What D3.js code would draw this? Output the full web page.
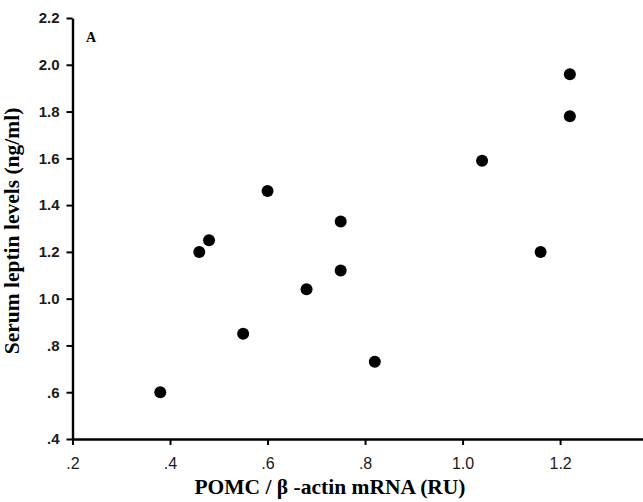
<!DOCTYPE html>
<html><head><meta charset="utf-8">
<script src="https://cdn.jsdelivr.net/npm/d3@7"></script>
<style>body{margin:0;background:#fff}svg{display:block}</style>
</head><body>
<script>
const pomc   = [0.38, 0.46, 0.48, 0.55, 0.60, 0.68, 0.75, 0.75, 0.82, 1.04, 1.16, 1.22, 1.22];
const leptin = [0.60, 1.20, 1.25, 0.85, 1.46, 1.04, 1.33, 1.12, 0.73, 1.59, 1.20, 1.96, 1.78];
const xTicks = [0.2, 0.4, 0.6, 0.8, 1.0, 1.2];
const yTicks = [0.4, 0.6, 0.8, 1.0, 1.2, 1.4, 1.6, 1.8, 2.0, 2.2];
const xTitle = "POMC / \u03B2 -actin mRNA (RU)";
const yTitle = "Serum leptin levels (ng/ml)";
const panel = "A";

const W = 643, H = 502;
const svg = d3.select("body").append("svg").attr("width", W).attr("height", H);
const x = d3.scaleLinear().domain([0.2, 1.37]).range([72.5, 643]);
const y = d3.scaleLinear().domain([0.4, 2.2]).range([439, 18]);
const fmt = v => v < 1 ? d3.format(".1f")(v).replace(/^0/, "") : d3.format(".1f")(v);

const gx = svg.append("g").attr("transform", "translate(0,439)")
  .call(d3.axisBottom(x).tickValues(xTicks).tickFormat(fmt).tickSize(6).tickSizeOuter(0));
const gy = svg.append("g").attr("transform", "translate(72.5,0)")
  .call(d3.axisLeft(y).tickValues(yTicks).tickFormat(fmt).tickSize(6).tickSizeOuter(0));
[gx, gy].forEach(g => {
  g.select(".domain").attr("stroke", "#000").attr("stroke-width", 2.4);
  g.selectAll(".tick line").attr("stroke", "#000").attr("stroke-width", 2);
  g.selectAll(".tick text").attr("font-family", "Liberation Sans, Arial, sans-serif").attr("fill", "#1a1a1a");
});
gx.selectAll(".tick text").attr("font-size", 16).attr("dy", null).attr("y", 30);
gy.selectAll(".tick text").attr("font-size", 15).attr("font-weight", "bold").attr("x", -13);

svg.append("g").selectAll("circle").data(pomc).join("circle")
  .attr("cx", (d, i) => x(d)).attr("cy", (d, i) => y(leptin[i])).attr("r", 6).attr("fill", "#000");

svg.append("text").attr("x", 330).attr("y", 494).attr("text-anchor", "middle")
  .attr("font-family", "Liberation Serif, Times New Roman, serif").attr("font-weight", "bold")
  .attr("font-size", 21.5).text(xTitle);
svg.append("text").attr("transform", "translate(19,231) rotate(-90)").attr("text-anchor", "middle")
  .attr("font-family", "Liberation Serif, Times New Roman, serif").attr("font-weight", "bold")
  .attr("font-size", 21.5).text(yTitle);
svg.append("text").attr("x", 86).attr("y", 42)
  .attr("font-family", "Liberation Serif, Times New Roman, serif").attr("font-weight", "bold")
  .attr("font-size", 14).text(panel);
</script>
</body></html>
